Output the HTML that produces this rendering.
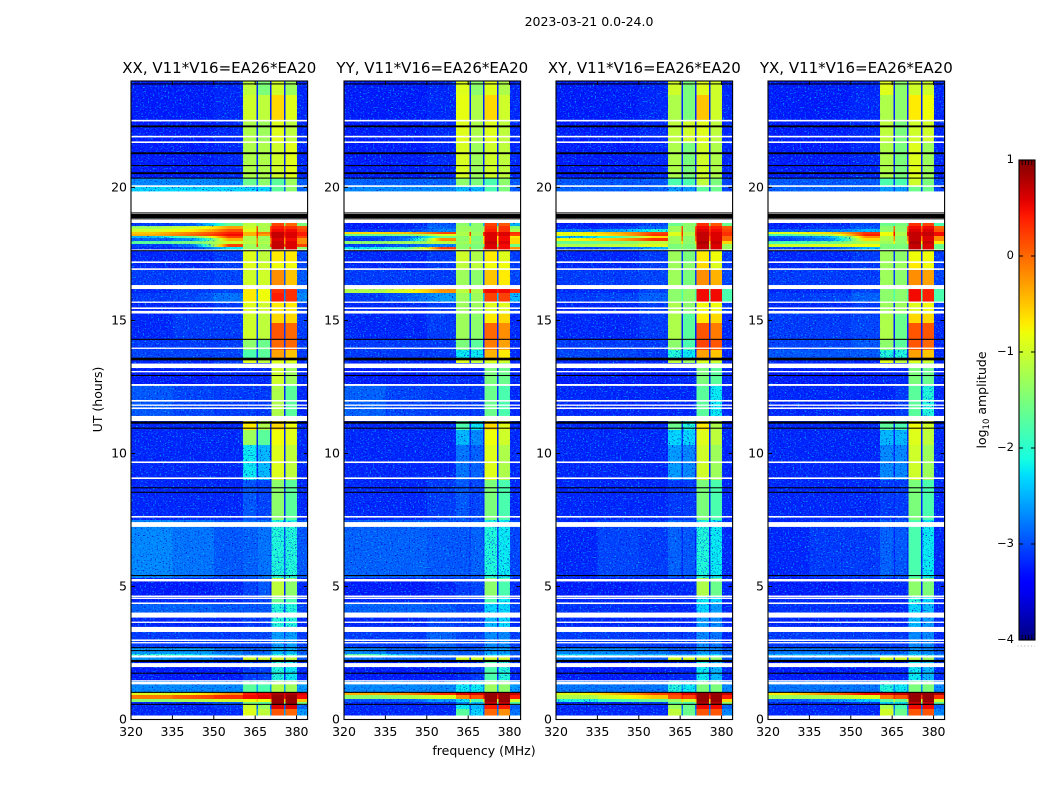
<!DOCTYPE html>
<html lang="en">
<head>
<meta charset="utf-8">
<title>2023-03-21 0.0-24.0</title>
<style>
html,body{margin:0;padding:0;background:#fff;width:1050px;height:800px;overflow:hidden}
svg{display:block}
text{font-family:"DejaVu Sans","Liberation Sans",sans-serif;fill:#000}
</style>
</head>
<body>
<svg id="figure" xmlns="http://www.w3.org/2000/svg" width="1050" height="800" viewBox="0 0 1050 800">
  <defs>
    <filter id="speckle-light" x="0" y="0" width="100%" height="100%" color-interpolation-filters="sRGB">
      <feTurbulence type="fractalNoise" baseFrequency="0.6 0.8" numOctaves="1" seed="4"/>
      <feColorMatrix type="matrix" values="0 0 0 0 0  0 0 0 0 0.7  0 0 0 0 1  5 0 0 0 -2.85"/>
    </filter>
    <filter id="speckle-dark" x="0" y="0" width="100%" height="100%" color-interpolation-filters="sRGB">
      <feTurbulence type="fractalNoise" baseFrequency="0.65 0.85" numOctaves="1" seed="11"/>
      <feColorMatrix type="matrix" values="0 0 0 0 0  0 0 0 0 0  0 0 0 0 0.8  0 5 0 0 -2.9"/>
    </filter>
    <linearGradient id="jet-gradient" x1="0" y1="1" x2="0" y2="0"></linearGradient>
  </defs>
  <text x="589" y="26" text-anchor="middle" font-size="12.5">2023-03-21 0.0-24.0</text>
  <text x="484" y="755" text-anchor="middle" font-size="12.5">frequency (MHz)</text>
  <text x="0" y="0" transform="translate(102,399.5) rotate(-90)" text-anchor="middle" font-size="12.5">UT (hours)</text>
  <g id="panels"></g>
  <g id="colorbar"></g>
</svg>
<script>
// Frequency cell edges (MHz), rows of UT edges (hours)
const freqEdges = [320, 335, 350, 360.5, 365.6, 370.6, 375.6, 380.1, 384];
const gapChannels = [365.4, 370.4, 375.4];
const timeEdges = [24,23.48,22.54,21.71,20.36,20.06,19.83,18.67,18.55,18.44,18.33,18.25,18.18,18.1,17.99,17.88,17.76,17.65,17.2,16.9,16.18,16.03,15.7,15.24,14.9,14.3,13.89,13.59,13.4,12.58,11.41,10.88,10.32,9,7.5,5.32,4.64,4.34,4,3.29,2.69,2.46,2.35,2.16,1.45,1.02,.92,.77,.66,.55,.39,0];
const freqTicks = [320, 335, 350, 365, 380];
const timeTicks = [0, 5, 10, 15, 20];
const colorTicks = [1, 0, -1, -2, -3, -4];
const panelTitles = ["XX, V11*V16=EA26*EA20", "YY, V11*V16=EA26*EA20", "XY, V11*V16=EA26*EA20", "YX, V11*V16=EA26*EA20"];

const xxValues = [
[-3.25,-3.25,-3.2,-1.1,-1.5,-1,-1.3,-3.2],[-3.25,-3.25,-3.2,-1,-1.1,-.6,-.9,-3.2],[-3.25,-3.25,-3.2,-1.2,-1.3,-.9,-1.1,-3.2],[-3.25,-3.25,-3.2,-1.2,-1.2,-1,-.9,-3.2],
[-2.7,-2.7,-2.7,-1.6,-1.4,-1.7,-1.3,-2.9],[-2.3,-2.3,-2.3,-2.3,-2.3,-1.7,-1.4,-2.9],null,
[-3.1,-2.9,-1.6,-1.1,-1.2,.2,0,-1.5],[-1.3,-1,-.3,-1,-1.2,.4,.3,.1],[-1,-.7,.1,-.9,-1.2,.5,.5,.2],[-.5,-.1,.4,-.4,-.1,.7,.6,.4],[-.4,0,.5,-.4,-.3,.7,.6,.4],[-2.45,-1.6,.2,-1.2,-1.3,.7,.6,.2],[-2.9,-2.6,-.4,-1.2,-1.3,.6,.5,-.2],[-1.7,-1.5,-1,-1.1,-1.2,.7,.6,-.2],[-3.1,-2.8,.2,-1.3,-1.3,.7,.6,.2],[-3.2,-3.1,-2.2,-1.3,-1.3,.7,.6,-1.4],
[-3.2,-3.2,-3.1,-.9,-1.1,-.7,-.7,-3.05],[-3.2,-3.2,-3.1,-.9,-1,-.8,-.8,-3.05],[-3.1,-3.1,-3.05,-1,-1,-.2,-.5,-2.95],[-3.2,-3.1,-3.05,-.7,-.8,.3,.3,-2.8],[-3.1,-3.05,-2.8,-.7,-.8,.4,.3,-2.7],[-3.2,-3.2,-3.1,-.9,-1,-.7,-.7,-3.05],
[-3.2,-3.1,-3.1,-1,-1.1,-.6,-.6,-3.1],[-3.2,-3.1,-3.1,-1,-1.1,.1,0,-3.1],[-3.1,-3.1,-3.1,-1.4,-1.6,0,0,-3.1],[-3.05,-3.05,-3.05,-1.8,-1.7,-.3,-.5,-3.1],[-3.2,-3.2,-3.1,-.9,-1.1,-.9,-.9,-3.2],
[-3.25,-3.25,-3.2,-3.2,-3.2,-1,-1.3,-3.2],[-2.95,-3.05,-3.1,-3.1,-3.1,-1.2,-1.7,-3.2],[-3.2,-3.2,-3.2,-.7,-1.2,-.6,-.8,-3.2],[-3.2,-3.2,-3.2,-1.3,-1.7,-.8,-.9,-3.2],[-3.2,-3.2,-3.2,-2.2,-2.45,-.9,-1.1,-3.2],[-3.2,-3.2,-3.2,-2.95,-3.05,-1.4,-1.7,-3.2],
[-2.7,-2.8,-2.95,-2.9,-2.8,-2.05,-2.05,-2.95],[-3.25,-3.25,-3.2,-3.05,-2.95,-1.1,-1.4,-3.2],[-3.2,-3.2,-3.2,-3.1,-3.05,-1.6,-1.8,-3.2],[-2.9,-2.9,-2.95,-2.95,-2.95,-2.05,-2.05,-3.05],[-3.2,-3.2,-3.2,-3.1,-3.1,-2.05,-2.05,-3.2],[-3.1,-3.1,-3.1,-3.05,-3.05,-2.6,-2.6,-3.1],
[-2.6,-2.6,-2.8,-2.9,-2.9,-2.45,-2.45,-2.9],[-2.05,-2.2,-2.6,-2.7,-2.7,-2.05,-2.05,-2.8],[-2.6,-2.7,-2.9,-1,-1,-1,-1.1,-2.95],[-3.25,-3.25,-3.25,-3.1,-3.05,-2.05,-2.2,-3.2],[-2.7,-2.7,-2.7,-1.7,-1.8,-1.2,-1.3,-2.6],
[-.9,-.8,-.2,.4,.5,.8,.8,.6],[-.1,.1,.3,.5,.6,.9,.9,.5],[-1.4,-1.2,-1,-.8,-.8,.9,.9,-.5],[-3.2,-3.2,-2.9,-1.5,-1.7,.9,.9,-1.5],[-3.2,-3.2,-3.1,-1,-1.3,.6,.6,-2.9],[-3.2,-3.2,-3.2,-.9,-1.1,.1,0,-2.6]
];
const yyValues = [
[-3.25,-3.25,-3.2,-.9,-1.4,-.9,-1.2,-3.2],[-3.25,-3.25,-3.2,-.85,-1.2,-.6,-1,-3.2],[-3.25,-3.25,-3.2,-.9,-1.2,-.9,-1.1,-3.2],[-3.25,-3.25,-3.2,-.95,-1.3,-1,-1.1,-3.2],
[-2.9,-2.9,-2.9,-1.4,-1.5,-1.8,-1.4,-2.95],[-2.7,-2.7,-2.7,-2.45,-2.45,-1.8,-1.5,-2.95],null,
[-3.25,-3.2,-2.95,-1.4,-1.4,.2,.1,-2.45],[-3.25,-3.2,-2.9,-1.3,-1.4,.3,.3,-1.4],[-3.1,-3.05,-2.7,-1.3,-1.4,.4,.3,-1.2],[-.6,-.5,.2,-1.2,-1.3,.6,.6,.3],[-1.6,-1.5,-.9,-1.2,-1.3,.6,.6,.2],[-2.95,-2.9,-1.6,-1.4,-1.5,.6,.5,-.7],[-3.1,-2.8,-.2,-1.4,-1.5,.6,.5,-.6],[-1.4,-1.3,-1.1,-1.3,-1.4,.7,.6,-.6],[-3.05,-2.95,-2.7,-1.4,-1.5,.6,.5,-1.6],[-2.2,-1.8,.2,-1.4,-1.5,.6,.5,-.2],
[-3.2,-3.2,-3.1,-1,-1.2,-.7,-.9,-3.1],[-3.2,-3.2,-3.1,-1.1,-1.1,-.8,-.8,-3.1],[-3.1,-3.1,-3.1,-1.3,-1.4,-.5,-.7,-3.05],[-1.2,-.9,-.2,-1.1,-1.2,.5,.5,.3],[-3.1,-2.95,-2.6,-1.3,-1.3,.2,.2,-2.45],[-3.2,-3.2,-3.1,-1.3,-1.3,-.9,-.9,-3.1],
[-3.2,-3.2,-3.1,-1.3,-1.4,-.7,-.6,-3.2],[-3.2,-3.2,-3.1,-1.3,-1.4,0,-.2,-3.2],[-3.1,-3.1,-3.1,-1.5,-1.7,-.1,-.3,-3.2],[-3.1,-3.1,-3.1,-2.2,-2.2,-.4,-.7,-3.2],[-3.2,-3.2,-3.2,-.9,-1.1,-.9,-1,-3.2],
[-3.25,-3.25,-3.2,-3.2,-3.2,-1.5,-1.6,-3.2],[-2.9,-3.05,-3.1,-3.1,-3.1,-1.6,-1.8,-3.2],[-3.2,-3.2,-3.2,-1.8,-2.2,-.6,-.9,-3.2],[-3.2,-3.2,-3.2,-2.45,-2.7,-.8,-1,-3.2],[-3.2,-3.2,-3.2,-2.8,-2.9,-.9,-1.2,-3.2],[-3.2,-3.2,-3.1,-2.95,-3.05,-1.5,-1.8,-3.2],
[-2.9,-2.9,-2.95,-2.95,-2.9,-2.05,-2.2,-3.05],[-3.25,-3.25,-3.2,-3.1,-3.05,-1.4,-1.8,-3.2],[-3.2,-3.2,-3.2,-3.1,-3.1,-1.8,-2.2,-3.2],[-2.9,-2.9,-2.95,-3.05,-3.05,-2.3,-2.3,-3.05],[-3.2,-3.2,-3.05,-3.1,-3.1,-2.45,-2.3,-3.2],[-3.1,-3.1,-2.9,-3.05,-3.05,-2.7,-2.7,-3.1],
[-2.7,-2.9,-2.9,-2.95,-2.95,-2.6,-2.6,-2.95],[-1.7,-2.45,-2.8,-2.9,-2.9,-2.3,-2.3,-2.95],[-2.8,-2.9,-2.95,-1,-1,-1,-1,-3.05],[-3.25,-3.25,-3.25,-3.2,-3.1,-1.8,-2.05,-3.2],[-2.7,-2.7,-2.7,-2.2,-2.2,-1.3,-1.4,-2.6],
[-.4,-.2,.3,.6,.6,.9,.9,.7],[-1.4,-1.2,-.9,-.2,.1,.9,.9,.4],[-2.95,-2.9,-2.6,-2.2,-1.8,.9,.9,-1],[-3.2,-3.2,-3.1,-2.7,-2.45,.7,.7,-1.8],[-3.2,-3.2,-3.2,-2.2,-2.45,.4,.4,-2.95],[-3.2,-3.2,-3.2,-1.7,-2.3,0,-.2,-2.8]
];
const xyValues = [
[-3.25,-3.25,-3.2,-1,-1.5,-.9,-1,-3.2],[-3.25,-3.25,-3.2,-1.2,-1.5,-.5,-1,-3.2],[-3.25,-3.25,-3.2,-1.1,-1,-.9,-1.1,-3.2],[-3.25,-3.25,-3.2,-1.2,-1.5,-1,-1.2,-3.2],
[-2.95,-2.95,-2.95,-1.8,-1.8,-1.1,-1.5,-3.05],[-2.9,-2.9,-2.9,-2.6,-2.6,-1.7,-1.6,-3.05],null,
[-3.25,-3.2,-3.05,-1.6,-1.4,.3,.1,-1.6],[-3.2,-3.1,-2.9,-1.3,-1.4,.5,.4,.1],[-2.8,-2.6,-2.05,-1.3,-1.4,.6,.5,.2],[-.8,-.4,.2,-.9,-1.2,.7,.6,.3],[-.9,-.5,.3,-.9,-1.2,.7,.6,.3],[-2.45,-1.8,-.6,-1.3,-1.4,.7,.6,0],[-.8,-.4,.3,-1.3,-1.4,.7,.6,0],[-1.6,-1.5,-1.1,-1.3,-1.4,.8,.7,-.6],[-1.2,-1.1,-.9,-1.5,-1.5,.7,.6,-1.3],[-3.05,-2.95,-2.45,-1.5,-1.5,.7,.6,-1.3],
[-3.2,-3.2,-3.1,-1.3,-1.5,-.7,-.8,-3.1],[-3.2,-3.2,-3.1,-1.3,-1.4,-.6,-.9,-3.1],[-3.1,-3.1,-3.05,-1.3,-1.5,-.2,-.4,-3.05],[-3.2,-3.2,-3.05,-1.4,-1.4,.5,.5,-1.8],[-3.1,-3.05,-2.9,-1.4,-1.4,.5,.5,-1.8],[-3.2,-3.2,-3.1,-1.2,-1.4,-.8,-.8,-3.1],
[-3.2,-3.2,-3.1,-1.2,-1.7,-.7,-.6,-3.2],[-3.2,-3.2,-3.1,-1.2,-1.7,.1,-.1,-3.2],[-3.1,-3.1,-3.1,-1.4,-1.8,.2,.1,-3.2],[-3.05,-3.05,-3.1,-2.05,-2.2,-.3,-.5,-3.2],[-3.2,-3.2,-3.2,-1.1,-1.3,-.9,-1,-3.2],
[-3.25,-3.25,-3.25,-3.2,-3.2,-1.5,-1.7,-3.2],[-3.2,-3.2,-3.2,-3.2,-3.2,-1.7,-2.2,-3.2],[-3.2,-3.2,-3.2,-1.6,-2.05,-.7,-1.2,-3.2],[-3.2,-3.2,-3.2,-2.3,-2.3,-.9,-1.1,-3.2],[-3.2,-3.2,-3.2,-2.6,-2.7,-1,-1.3,-3.2],[-3.2,-3.2,-3.2,-3.1,-3.1,-1.5,-1.8,-3.2],
[-3.2,-3.05,-3.1,-2.9,-2.95,-2.05,-2.2,-3.2],[-3.25,-3.25,-3.2,-3.2,-3.2,-1.2,-1.6,-3.2],[-3.2,-3.2,-3.2,-3.2,-3.2,-2.2,-2.3,-3.2],[-3.15,-3.15,-3.2,-3.2,-3.2,-2.3,-2.6,-3.2],[-3.2,-3.2,-3.2,-3.2,-3.2,-2.6,-2.7,-3.2],[-3.1,-3.1,-3.1,-3.1,-3.1,-2.7,-2.8,-3.2],
[-2.7,-2.7,-2.8,-2.95,-2.95,-2.6,-2.7,-2.95],[-2.3,-2.45,-2.45,-2.6,-2.6,-2.3,-2.3,-2.7],[-2.7,-2.8,-2.9,-1,-1,-1.1,-1.4,-2.95],[-3.25,-3.25,-3.25,-3.2,-3.2,-2.2,-2.45,-3.2],[-2.8,-2.8,-2.8,-2.05,-2.2,-1.5,-1.5,-2.7],
[-.9,-.4,.2,.3,.6,.9,.9,.7],[-1.2,-.9,-.5,.1,.2,.9,.9,.4],[-2.05,-1.8,-1.6,-1.3,-1,.9,.9,-.6],[-3.2,-3.2,-3.05,-1.7,-1.8,.8,.8,-1.4],[-3.2,-3.2,-3.2,-1.3,-1.6,.5,.5,-2.9],[-3.2,-3.2,-3.2,-1.1,-1.6,.1,.1,-2.7]
];
const yxValues = [
[-3.25,-3.25,-3.2,-.9,-1.4,-1,-1,-3.2],[-3.25,-3.25,-3.2,-1.2,-1.4,-.7,-.8,-3.2],[-3.25,-3.25,-3.2,-1.1,-1.5,-1,-1,-3.2],[-3.25,-3.25,-3.2,-1.2,-1.5,-.9,-1.3,-3.2],
[-2.95,-2.95,-2.95,-1.8,-1.8,-1,-1.5,-3.05],[-2.9,-2.9,-2.9,-2.6,-2.6,-1.6,-1.6,-3.05],null,
[-3.25,-3.2,-3.05,-1.6,-1.5,.3,.2,-1.8],[-3.2,-3.1,-2.95,-1.4,-1.4,.5,.5,0],[-2.9,-2.8,-2.45,-1.4,-1.4,.6,.6,.1],[-.9,-.6,.3,-.8,-1.2,.7,.7,.5],[-1.8,-1.2,.4,-.8,-1.2,.7,.7,.5],[-2.9,-2.45,-.2,-1.2,-1.4,.7,.6,-.2],[-3.05,-2.7,-.6,-1.2,-1.4,.7,.6,-.2],[-1.8,-1.6,-1.2,-1.3,-1.4,.8,.7,-.7],[-1,-.9,-.8,-1.5,-1.5,.7,.6,-1.6],[-3.05,-2.95,-2.45,-1.5,-1.5,.7,.6,-1.6],
[-3.2,-3.2,-3.1,-1.3,-1.4,-.8,-.8,-3.1],[-3.2,-3.2,-3.1,-1.3,-1.3,-.7,-.8,-3.1],[-3.1,-3.1,-3.1,-1.3,-1.4,-.2,-.3,-3.05],[-3.2,-3.2,-3.05,-1.4,-1.4,.5,.4,-1.8],[-3.1,-3.05,-2.9,-1.4,-1.4,.5,.4,-1.8],[-3.2,-3.2,-3.1,-1.3,-1.3,-.9,-.8,-3.1],
[-3.1,-3.1,-3.05,-1.2,-1.6,-.6,-.6,-3.2],[-3.1,-3.1,-3.05,-1.2,-1.6,.1,.1,-3.2],[-3.05,-3.05,-2.95,-1.4,-1.7,.1,0,-3.2],[-2.95,-2.95,-2.95,-2.05,-2.05,-.3,-.5,-3.2],[-3.2,-3.2,-3.2,-.9,-1.1,-.9,-1,-3.2],
[-3.25,-3.25,-3.25,-3.2,-3.2,-1.5,-1.6,-3.2],[-3.2,-3.2,-3.2,-3.2,-3.1,-1.7,-2.05,-3.2],[-3.2,-3.2,-3.2,-1.7,-1.8,-.8,-1,-3.2],[-3.2,-3.2,-3.2,-2.45,-2.45,-.9,-1.1,-3.2],[-3.2,-3.2,-3.2,-2.7,-2.7,-1,-1.3,-3.2],[-3.2,-3.2,-3.2,-3.1,-3.1,-1.5,-1.8,-3.2],
[-3.2,-3.1,-3.1,-2.9,-2.95,-1.8,-2.2,-3.2],[-3.25,-3.25,-3.2,-3.2,-3.2,-1.4,-1.5,-3.2],[-3.2,-3.2,-3.2,-3.2,-3.2,-2.05,-2.3,-3.2],[-3.15,-3.15,-3.2,-3.2,-3.2,-2.3,-2.45,-3.2],[-3.2,-3.2,-3.2,-3.2,-3.2,-2.45,-2.6,-3.2],[-3.1,-3.1,-3.1,-3.1,-3.1,-2.7,-2.7,-3.2],
[-2.8,-2.8,-2.8,-2.95,-2.95,-2.6,-2.7,-2.95],[-2.45,-2.45,-2.45,-2.6,-2.6,-2.3,-2.3,-2.7],[-2.8,-2.8,-2.9,-1,-1,-1.1,-1.3,-2.95],[-3.25,-3.25,-3.25,-3.2,-3.2,-2.2,-2.45,-3.2],[-2.8,-2.8,-2.8,-2.05,-2.2,-1.5,-1.5,-2.7],
[-.7,-.1,.5,.6,.7,.9,.9,.8],[-1.3,-1.2,-.9,-.1,.1,.9,.9,.3],[-2.9,-2.7,-2.3,-1.7,-1.6,.9,.9,-1],[-3.2,-3.2,-3.1,-2.3,-2.2,.7,.7,-1.7],[-3.2,-3.2,-3.2,-1.2,-1.8,.5,.5,-2.9],[-3.2,-3.2,-3.2,-1,-1.6,.1,.1,-2.7]
];
const panelValues = [xxValues, yyValues, xyValues, yxValues];

// Flagged time ranges in hours, shared by all polarisations
const whiteFlags = [[22.48,22.54],[21.88,21.94],[21.67,21.73],[20.02,20.08],[19.04,19.85],[18.68,18.78],[17.63,17.67],[17.16,17.22],[16.9,16.96],[16.18,16.33],[15.66,15.71],[15.43,15.49],[15.26,15.36],[13.93,13.98],[13.21,13.38],[13.05,13.1],[12.54,12.61],[11.95,12.01],[11.79,11.84],[11.67,11.73],[11.22,11.41],[9.64,9.7],[9.04,9.1],[7.59,7.65],[7.24,7.42],[5.19,5.28],[4.6,4.66],[4.53,4.58],[4.34,4.4],[3.83,4.02],[3.63,3.68],[3.29,3.48],[2.95,3.01],[2.86,2.91],[2.33,2.41],[1.97,2.12],[1.45,1.48],[1.32,1.43],[0,0.15]];
const blackFlags = [[23.87,23.91],[22.26,22.33],[21.25,21.32],[20.8,20.84],[20.5,20.57],[20.33,20.37],[19.02,19.06],[18.85,19],[18.8,18.84],[17.6,17.64],[14.27,14.31],[13.5,13.6],[12.91,12.95],[11.12,11.2],[10.93,10.97],[8.69,8.73],[8.52,8.56],[5.39,5.43],[2.68,2.72],[2.57,2.61],[2.16,2.24],[1.72,1.76],[1,1.04],[.55,.59]];

const SVG_NS = 'http://www.w3.org/2000/svg';
const panelLefts = [131, 344, 556, 768];
const panelWidth = 176.6, plotTop = 81, plotBottom = 719.5;
const xMin = 320, xMax = 384, tMin = 0, tMax = 24;
const cbLeft = 1019, cbWidth = 16, cbTop = 160, cbBottom = 640, cMin = -4, cMax = 1;

function jetChannel(stops, t) {
  for (let i = 1; i < stops.length; i++) {
    if (t <= stops[i][0]) {
      const a = stops[i - 1], b = stops[i];
      return a[1] + (b[1] - a[1]) * (t - a[0]) / (b[0] - a[0]);
    }
  }
  return stops[stops.length - 1][1];
}
const jetR = [[0,0],[.35,0],[.66,1],[.89,1],[1,.5]];
const jetG = [[0,0],[.125,0],[.375,1],[.64,1],[.91,0],[1,0]];
const jetB = [[0,.5],[.11,1],[.34,1],[.65,0],[1,0]];
function colorOf(v) {
  const t = Math.max(0, Math.min(1, (v - cMin) / (cMax - cMin)));
  return 'rgb(' + [jetR, jetG, jetB].map(function (s) { return Math.round(jetChannel(s, t) * 255); }).join(',') + ')';
}
function yScale(h) { return plotBottom - (h - tMin) / (tMax - tMin) * (plotBottom - plotTop); }
function xScale(f, left) { return left + (f - xMin) / (xMax - xMin) * panelWidth; }
function cbScale(v) { return cbBottom - (v - cMin) / (cMax - cMin) * (cbBottom - cbTop); }
function make(tag, attrs, parent) {
  const el = document.createElementNS(SVG_NS, tag);
  for (const k in attrs) el.setAttribute(k, attrs[k]);
  parent.appendChild(el);
  return el;
}

const panelsRoot = document.getElementById('panels');
const svgDefs = document.querySelector('defs');
let gradientCount = 0;

// Smooth the low-frequency cells toward their neighbours, as the RFI rows fade along frequency
function cellFill(row, c) {
  if (c > 2) return colorOf(row[c]);
  const from = c === 0 ? row[0] : (row[c - 1] + row[c]) / 2;
  const to = c === 2 ? row[2] : (row[c] + row[c + 1]) / 2;
  if (Math.abs(from - to) < 0.15 && Math.abs(from - row[c]) < 0.15) return colorOf(row[c]);
  const id = 'cell-fade-' + (gradientCount++);
  const grad = make('linearGradient', { id: id, x1: 0, x2: 1, y1: 0, y2: 0 }, svgDefs);
  [[0, from], [.25, (from + row[c]) / 2], [.5, row[c]], [.75, (to + row[c]) / 2], [1, to]].forEach(function (s) {
    make('stop', { offset: s[0], 'stop-color': colorOf(s[1]) }, grad);
  });
  return 'url(#' + id + ')';
}

panelTitles.forEach(function (title, p) {
  const left = panelLefts[p];
  const values = panelValues[p];
  const g = make('g', {}, panelsRoot);
  
  

  const clip = make('clipPath', { id: 'quiet-cells-' + p }, svgDefs);

  values.forEach(function (row, r) {
    if (!row) return;
    const y0 = yScale(timeEdges[r]), y1 = yScale(timeEdges[r + 1]);
    row.forEach(function (v, c) {
      const x0 = xScale(freqEdges[c], left), x1 = xScale(freqEdges[c + 1], left);
      const cell = make('rect', { x: x0, y: y0, width: x1 - x0 + .4, height: y1 - y0 + .4, fill: cellFill(row, c), 'shape-rendering': 'crispEdges' }, g);
      
      
      if (v < -1.9) make('rect', { x: x0, y: y0, width: x1 - x0 + .4, height: y1 - y0 + .4 }, clip);
    });
    gapChannels.forEach(function (f) {
      const gap = make('rect', { x: xScale(f, left), y: y0, width: 1.5, height: y1 - y0 + .4, fill: colorOf(row[7]), 'shape-rendering': 'crispEdges' }, g);
      
      
    });
  });

  const noise = make('g', { 'clip-path': 'url(#quiet-cells-' + p + ')' }, g);
  
  
  make('rect', { x: left, y: plotTop, width: panelWidth, height: plotBottom - plotTop, filter: 'url(#speckle-light)' }, noise);
  make('rect', { x: left, y: plotTop, width: panelWidth, height: plotBottom - plotTop, filter: 'url(#speckle-dark)' }, noise);

  whiteFlags.forEach(function (f) {
    const w = make('rect', { x: left, y: yScale(f[1]), width: panelWidth, height: yScale(f[0]) - yScale(f[1]), fill: '#fff' }, g);
    
    
  });
  blackFlags.forEach(function (f) {
    const b = make('rect', { x: left, y: yScale(f[1]), width: panelWidth, height: yScale(f[0]) - yScale(f[1]), fill: '#000' }, g);
    
    
  });

  const frame = make('rect', { x: left, y: plotTop, width: panelWidth, height: plotBottom - plotTop, fill: 'none', stroke: '#000', 'stroke-width': 1.1 }, g);
  
  

  const titleEl = make('text', { x: left + panelWidth / 2, y: 73, 'text-anchor': 'middle', 'font-size': 15 }, g);
  titleEl.textContent = title;
  
  

  freqTicks.forEach(function (f) {
    const x = xScale(f, left);
    make('path', { d: 'M' + x + ' ' + plotBottom + 'v-4M' + x + ' ' + plotTop + 'v4', stroke: '#000', 'stroke-width': 1, fill: 'none' }, g);
    const label = make('text', { x: x, y: 736, 'text-anchor': 'middle', 'font-size': 12.5 }, g);
    label.textContent = String(f);
    
    
  });
  timeTicks.forEach(function (h) {
    const y = yScale(h);
    make('path', { d: 'M' + left + ' ' + y + 'h4M' + (left + panelWidth) + ' ' + y + 'h-4', stroke: '#000', 'stroke-width': 1, fill: 'none' }, g);
    const label = make('text', { x: left - 4, y: y + 4, 'text-anchor': 'end', 'font-size': 12.5 }, g);
    label.textContent = String(h);
    
    
  });
});

// Colorbar
const gradient = document.getElementById('jet-gradient');
for (let v = cMin; v <= cMax + 1e-6; v += 0.1) {
  make('stop', { offset: (v - cMin) / (cMax - cMin), 'stop-color': colorOf(v) }, gradient);
}
const cbRoot = document.getElementById('colorbar');
const bar = make('rect', { x: cbLeft, y: cbTop, width: cbWidth, height: cbBottom - cbTop, fill: 'url(#jet-gradient)', stroke: '#000', 'stroke-width': 1.1 }, cbRoot);


colorTicks.forEach(function (v) {
  const y = cbScale(v);
  make('path', { d: 'M' + cbLeft + ' ' + y + 'h4M' + (cbLeft + cbWidth) + ' ' + y + 'h-4', stroke: '#000', 'stroke-width': 1, fill: 'none' }, cbRoot);
  const label = make('text', { x: cbLeft - 5, y: y + 3, 'text-anchor': 'end', 'font-size': 11.5 }, cbRoot);
  label.textContent = (v < 0 ? '\u2212' + Math.abs(v) : String(v));
  
  
});
[cbTop, cbBottom].forEach(function (y, i) {
  for (let k = 1; k < 5; k++) {
    make('path', { d: 'M' + (cbLeft + k * cbWidth / 5) + ' ' + y + 'v' + (i ? -5 : 5), stroke: '#000', 'stroke-width': .8, fill: 'none' }, cbRoot);
  }
});
const dots = make('path', { d: 'M1017.5 646H1035', stroke: '#aaa', 'stroke-width': 1, 'stroke-dasharray': '1 2.4', fill: 'none' }, cbRoot);


const cbTitle = make('text', { transform: 'translate(986,400) rotate(-90)', 'text-anchor': 'middle', 'font-size': 12.5 }, cbRoot);


cbTitle.appendChild(document.createTextNode('log'));
const cbSub = make('tspan', { dy: 3, 'font-size': 8.5 }, cbTitle);
cbSub.textContent = '10';
const cbRest = make('tspan', { dy: -3 }, cbTitle);
cbRest.textContent = ' amplitude';
</script>
</body>
</html>
